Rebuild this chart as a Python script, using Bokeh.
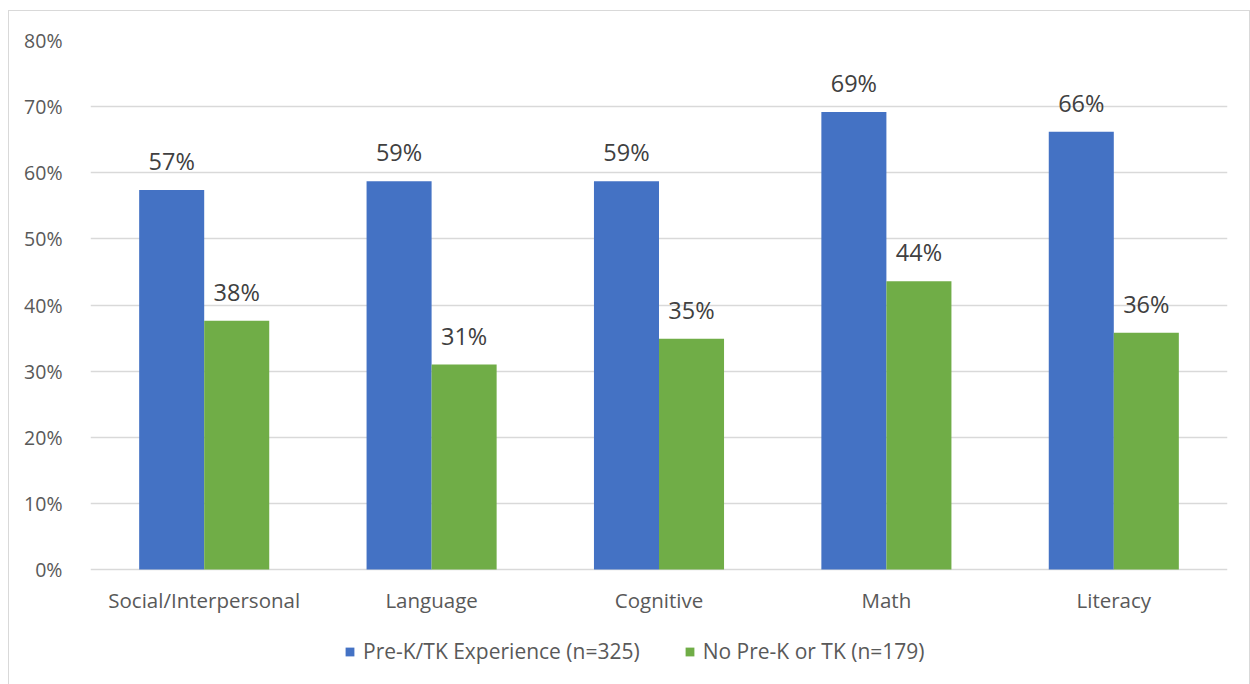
from bokeh.plotting import figure
from bokeh.models import ColumnDataSource, FactorRange, NumeralTickFormatter, Legend, LegendItem, FixedTicker
from bokeh.transform import dodge
from bokeh.core.properties import value
from bokeh.embed import file_html
from bokeh.resources import INLINE

categories = ["Social/Interpersonal", "Language", "Cognitive", "Math", "Literacy"]
prek = [0.574, 0.587, 0.587, 0.692, 0.662]
no_prek = [0.376, 0.310, 0.349, 0.436, 0.358]
prek_labels = ["57%", "59%", "59%", "69%", "66%"]
no_prek_labels = ["38%", "31%", "35%", "44%", "36%"]
series_names = ["Pre-K/TK Experience (n=325)", "No Pre-K or TK (n=179)"]
y_ticks = [0.0, 0.1, 0.2, 0.3, 0.4, 0.5, 0.6, 0.7, 0.8]

BLUE = "#4472c4"
GREEN = "#70ad47"
FONT = "Open Sans"

W, H = 1248, 682
TOP, LEFT, RIGHT = 40, 90, 21
ZERO_PX = 569  # pixel row of 0%
plot_h = ZERO_PX - TOP
y_start = -0.8 * (H - ZERO_PX) / plot_h

src = ColumnDataSource(dict(cat=categories, a=prek, b=no_prek, la=prek_labels, lb=no_prek_labels))

p = figure(x_range=FactorRange(*categories, range_padding=0), y_range=(y_start, 0.8),
           width=W, height=H, output_backend="svg", toolbar_location=None,
           min_border_left=LEFT, min_border_right=RIGHT, min_border_top=TOP, min_border_bottom=0)
p.outline_line_color = None
p.border_fill_color = "white"

bw = 0.286
r1 = p.vbar(x=dodge("cat", -bw / 2, range=p.x_range), top="a", bottom=0, width=bw, source=src,
            fill_color=BLUE, line_color=None)
r2 = p.vbar(x=dodge("cat", bw / 2, range=p.x_range), top="b", bottom=0, width=bw, source=src,
            fill_color=GREEN, line_color=None)

for col, lab, off in (("a", "la", -bw / 2), ("b", "lb", bw / 2)):
    p.text(x=dodge("cat", off, range=p.x_range), y=col, text=lab, source=src,
           text_align="center", text_baseline="alphabetic", y_offset=-29,
           text_font=value(FONT), text_font_size="23.5px", text_color="#404040")

# category labels beneath the 0% line
p.text(x="cat", y=0, text="cat", source=src, text_align="center", text_baseline="middle",
       y_offset=30, text_font=value(FONT), text_font_size="20.5px", text_color="#595959")

p.xaxis.visible = False
p.yaxis.ticker = FixedTicker(ticks=y_ticks)
p.yaxis.formatter = NumeralTickFormatter(format="0%")
p.yaxis.axis_line_color = None
p.yaxis.major_tick_line_color = None
p.yaxis.minor_tick_line_color = None
p.yaxis.major_label_text_font = FONT
p.yaxis.major_label_text_font_size = "19.5px"
p.yaxis.major_label_text_color = "#595959"
p.yaxis.major_label_standoff = 22

p.xgrid.grid_line_color = None
p.ygrid.ticker = FixedTicker(ticks=y_ticks)
p.ygrid.grid_line_color = "#d9d9d9"
p.ygrid.grid_line_width = 1.5

legend = Legend(items=[LegendItem(label=series_names[0], renderers=[r1]),
                       LegendItem(label=series_names[1], renderers=[r2])],
                orientation="horizontal", location=(254, H - 665),
                label_text_font=FONT, label_text_font_size="21px", label_text_color="#595959",
                glyph_width=11, glyph_height=11, spacing=44, label_standoff=8,
                border_line_color=None, background_fill_alpha=0, margin=0, padding=0)
p.add_layout(legend)

html = file_html(p, INLINE)
html = html.replace("<body>", "<body><div style='border:1px solid #d9d9d9;width:1240px;height:680px;position:absolute;left:8px;top:10px;pointer-events:none;z-index:5'></div>")
open("out.html", "w").write(html)
